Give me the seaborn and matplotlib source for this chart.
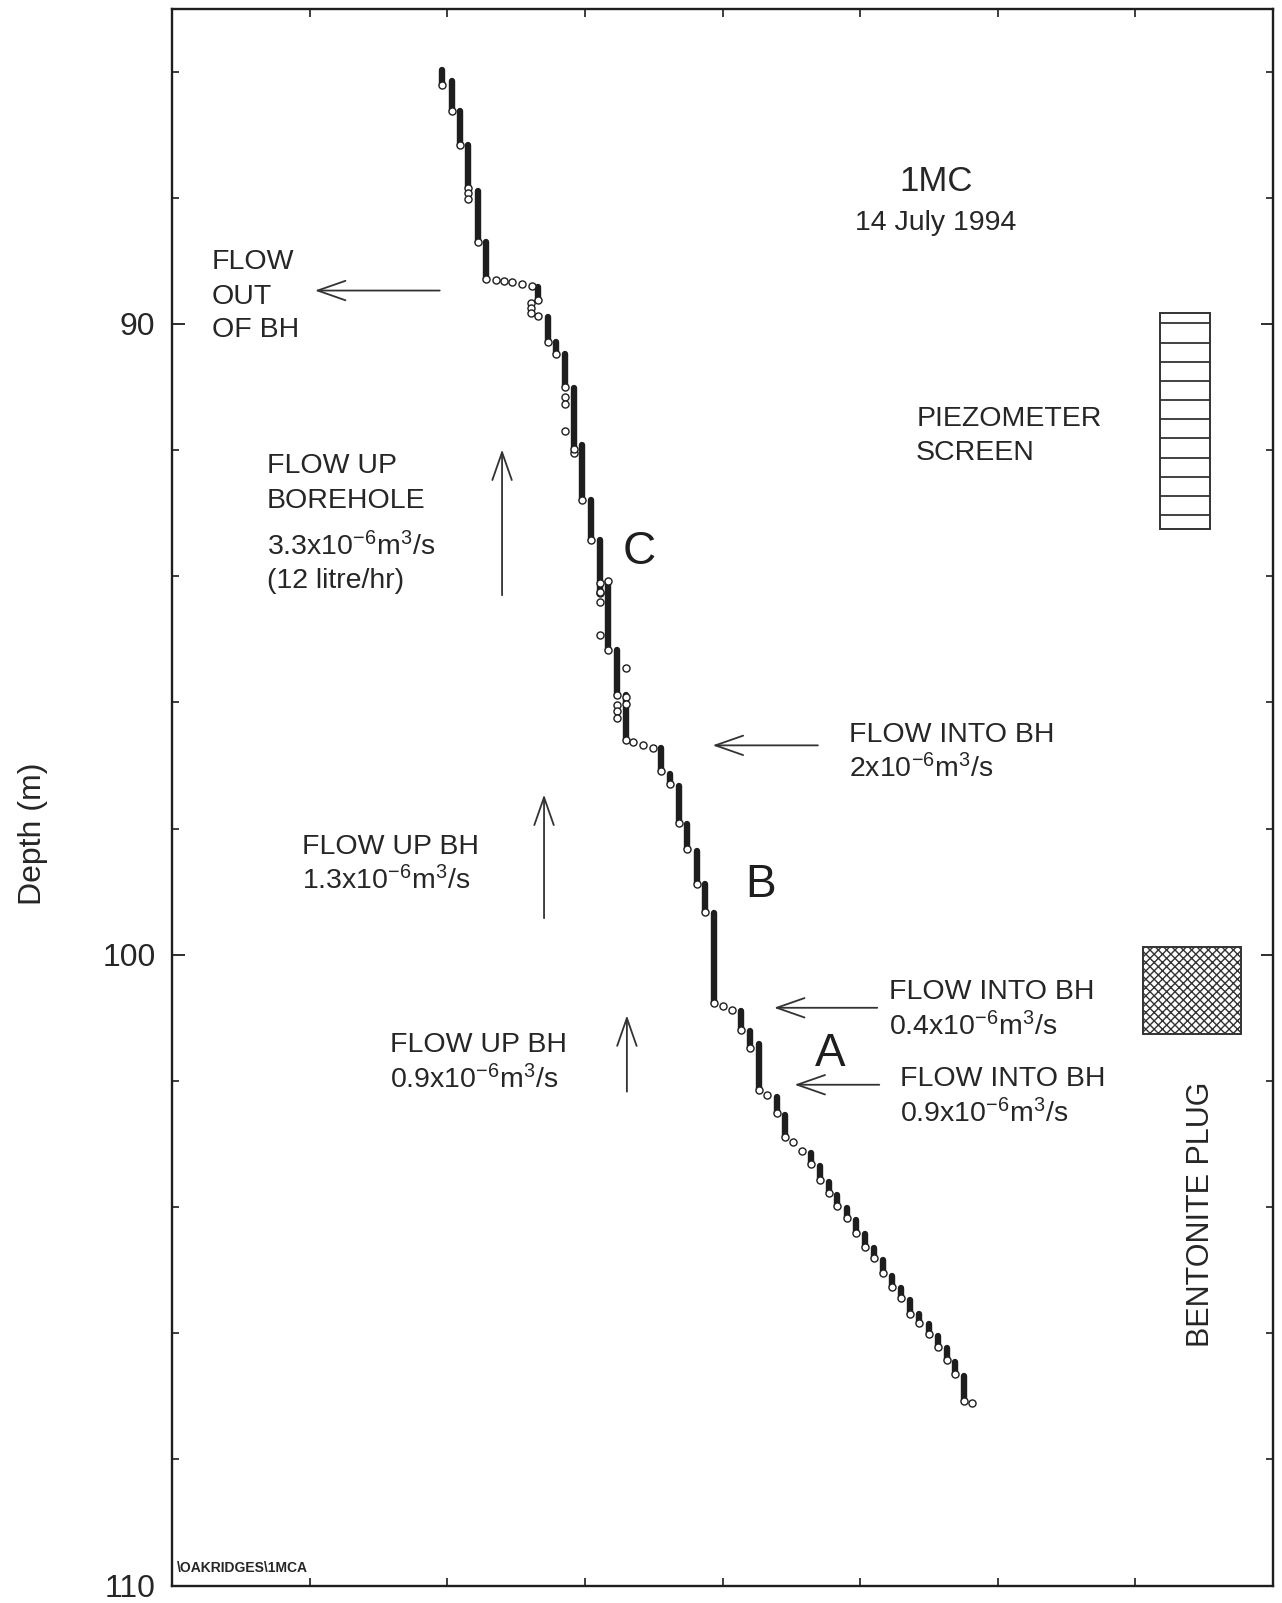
import numpy as np
import pandas as pd
import matplotlib
matplotlib.use("Agg")
import matplotlib.pyplot as plt
from matplotlib.patches import Rectangle
from matplotlib.ticker import FixedLocator, MultipleLocator
import seaborn as sns

# ---------------------------------------------------------------------------
# Borehole log 1MC, 14 July 1994: stationary columns of readings
# (horizontal reading, top and bottom depth of each column, m)
seg_x = [1.964, 2.037, 2.095, 2.153, 2.222, 2.284, 2.662, 2.731, 2.791, 2.854,
         2.922, 2.982, 3.043, 3.110, 3.171, 3.232, 3.299, 3.554, 3.619, 3.684,
         3.745, 3.813, 3.876, 3.941, 4.133, 4.201, 4.264, 4.395, 4.455, 4.642,
         4.709, 4.773, 4.835, 4.903, 4.971, 5.036, 5.102, 5.165, 5.230, 5.298,
         5.363, 5.431, 5.497, 5.562, 5.631, 5.691, 5.752]
seg_top = [85.97, 86.15, 86.63, 87.17, 87.89, 88.70, 89.42, 89.89, 90.28, 90.48,
           91.02, 91.92, 92.79, 93.42, 94.08, 95.17, 95.88, 96.72, 97.13, 97.33,
           97.92, 98.35, 98.88, 99.33, 100.89, 101.21, 101.41, 102.25, 102.54, 103.14,
           103.35, 103.60, 103.80, 104.01, 104.20, 104.43, 104.65, 104.84, 105.09, 105.29,
           105.47, 105.70, 105.85, 106.04, 106.24, 106.45, 106.68]
seg_bottom = [86.21, 86.63, 87.17, 87.85, 88.70, 89.28, 89.62, 90.28, 90.48, 91.00,
              92.05, 92.79, 93.42, 94.27, 95.17, 95.88, 96.60, 97.09, 97.30, 97.91,
              98.33, 98.88, 99.32, 100.77, 101.19, 101.48, 102.15, 102.51, 102.89, 103.32,
              103.57, 103.78, 103.99, 104.17, 104.41, 104.63, 104.81, 105.05, 105.27, 105.44,
              105.69, 105.83, 106.01, 106.22, 106.43, 106.65, 107.08]

# Single readings between columns
pt_x = [2.153, 2.153, 2.352, 2.413, 2.471, 2.544, 2.614, 2.607, 2.607, 2.607,
        2.662, 2.854, 2.854, 2.854, 2.922, 3.110, 3.110, 3.110, 3.110, 3.171,
        3.232, 3.232, 3.232, 3.299, 3.299, 3.299, 3.350, 3.423, 3.495, 4.007,
        4.068, 4.322, 4.515, 4.576, 5.814]
pt_depth = [87.93, 88.02, 89.30, 89.32, 89.33, 89.36, 89.39, 89.66, 89.74, 89.82,
            89.87, 91.15, 91.27, 91.69, 91.98, 94.10, 94.25, 94.40, 94.93, 94.08,
            96.04, 96.14, 96.25, 95.46, 95.92, 96.02, 96.63, 96.68, 96.72, 100.81,
            100.88, 102.22, 102.97, 103.11, 107.10]

# Piezometer screen and bentonite plug (depth, m)
screen_left, screen_right = 7.180, 7.544
screen_top, screen_bottom = 89.83, 93.25
screen_slots = [89.99, 90.30, 90.60, 90.90, 91.20, 91.51, 91.81, 92.12, 92.42,
                92.73, 93.03]
plug_left, plug_right = 7.057, 7.770
plug_top, plug_bottom = 99.88, 101.26

# Annotation lines (text, left x, baseline depth)
note_text = ["FLOW", "OUT", "OF BH",
             "FLOW UP", "BOREHOLE", r"3.3x10$^{\mathregular{-6}}$m$^{\mathregular{3}}$/s", "(12 litre/hr)",
             "FLOW INTO BH", r"2x10$^{\mathregular{-6}}$m$^{\mathregular{3}}$/s",
             "FLOW UP BH", r"1.3x10$^{\mathregular{-6}}$m$^{\mathregular{3}}$/s",
             "FLOW INTO BH", r"0.4x10$^{\mathregular{-6}}$m$^{\mathregular{3}}$/s",
             "FLOW UP BH", r"0.9x10$^{\mathregular{-6}}$m$^{\mathregular{3}}$/s",
             "FLOW INTO BH", r"0.9x10$^{\mathregular{-6}}$m$^{\mathregular{3}}$/s",
             "PIEZOMETER", "SCREEN"]
note_x = [0.288, 0.288, 0.288,
          0.689, 0.689, 0.689, 0.689,
          4.916, 4.916,
          0.942, 0.942,
          5.206, 5.206,
          1.581, 1.581,
          5.288, 5.288,
          5.407, 5.407]
note_depth = [89.13, 89.68, 90.21,
              92.37, 92.92, 93.66, 94.18,
              96.63, 97.18,
              98.40, 98.96,
              100.70, 101.28,
              101.54, 102.11,
              102.08, 102.66,
              91.61, 92.16]

# Zone letters
zone_text = ["C", "B", "A"]
zone_x = [3.275, 4.166, 4.671]
zone_depth = [93.81, 99.08, 101.77]

# Flow arrows: tail (x, depth) -> head (x, depth)
arrow_tail_x = [1.945, 2.398, 4.693, 2.703, 5.124, 3.305, 5.139]
arrow_tail_d = [89.47, 94.30, 96.68, 99.42, 100.84, 102.17, 102.06]
arrow_head_x = [1.038, 2.398, 3.928, 2.703, 4.374, 3.305, 4.523]
arrow_head_d = [89.47, 91.99, 96.68, 97.46, 100.84, 100.96, 102.06]

# ---------------------------------------------------------------------------
sns.set_theme(style="ticks")
plt.rcParams["font.family"] = ["Liberation Sans", "DejaVu Sans"]
plt.rcParams["mathtext.fontset"] = "custom"
plt.rcParams["mathtext.rm"] = "Liberation Sans"
plt.rcParams["mathtext.it"] = "Liberation Sans:italic"
plt.rcParams["mathtext.bf"] = "Liberation Sans:bold"
plt.rcParams["hatch.linewidth"] = 1.0

ink = "#1e1e1e"
txt = "#262626"
note_size = 20.5

fig = plt.figure(figsize=(12.82, 16.03), dpi=100)
ax = fig.add_axes([0.1342, 0.01085, 0.8588, 0.9838])

# Columns of readings drawn as thick vertical strokes
rows = []
for i, (x, t, b) in enumerate(zip(seg_x, seg_top, seg_bottom)):
    rows.append({"seg": i, "x": x, "depth": t})
    rows.append({"seg": i, "x": x, "depth": b})
df_seg = pd.DataFrame(rows)
sns.lineplot(data=df_seg, x="x", y="depth", units="seg", estimator=None,
             sort=False, color=ink, linewidth=4.6, solid_capstyle="round",
             legend=False, ax=ax, zorder=2)

# Last reading of each column and isolated readings as open circles
sns.scatterplot(x=seg_x, y=seg_bottom, marker="o", s=26, facecolor="white",
                edgecolor=ink, linewidth=1.0, ax=ax, zorder=3, legend=False)
sns.scatterplot(x=pt_x, y=pt_depth, marker="o", s=26, facecolor="white",
                edgecolor=ink, linewidth=1.0, ax=ax, zorder=3, legend=False)

# Piezometer screen
ax.add_patch(Rectangle((screen_left, screen_top), screen_right - screen_left,
                       screen_bottom - screen_top, facecolor="white",
                       edgecolor="#333333", lw=1.4, zorder=2))
ax.hlines(screen_slots, screen_left, screen_right, color="#333333", lw=1.3, zorder=2)

# Bentonite plug
ax.add_patch(Rectangle((plug_left, plug_top), plug_right - plug_left,
                       plug_bottom - plug_top, facecolor="white",
                       edgecolor="#333333", hatch="xxxx", lw=1.4, zorder=2))

# Text annotations
for t, x, d in zip(note_text, note_x, note_depth):
    ax.text(x, d, t, fontsize=note_size, color=txt, ha="left", va="baseline")
for t, x, d in zip(zone_text, zone_x, zone_depth):
    ax.text(x, d, t, fontsize=33, color=ink, ha="left", va="baseline")

ax.text(5.548, 87.89, "1MC", fontsize=25, color=txt, ha="center", va="baseline")
ax.text(5.548, 88.51, "14 July 1994", fontsize=note_size, color=txt,
        ha="center", va="baseline")
ax.text(7.48, 104.12, "BENTONITE PLUG", fontsize=22, color=txt, rotation=90,
        ha="center", va="center")
ax.text(0.036, 109.79, "\\OAKRIDGES\\1MCA", fontsize=10, color=txt,
        ha="left", va="baseline", fontweight="bold")

for tx, td, hx, hd in zip(arrow_tail_x, arrow_tail_d, arrow_head_x, arrow_head_d):
    ax.annotate("", xy=(hx, hd), xytext=(tx, td),
                arrowprops=dict(arrowstyle="->,head_length=1.0,head_width=0.35",
                                mutation_scale=20, lw=1.3, color="#333333",
                                shrinkA=0, shrinkB=0))

# Axes, ticks and frame
ax.set_xlim(0, 8)
ax.set_ylim(110, 85)
ax.set_xticks(np.arange(1, 8))
ax.set_xticklabels([])
ax.yaxis.set_major_locator(FixedLocator([90, 100, 110]))
ax.yaxis.set_minor_locator(MultipleLocator(2))
ax.tick_params(axis="y", which="major", direction="in", length=9, width=1.3,
               labelsize=23, pad=12, left=True, right=True, colors=ink,
               labelcolor=txt)
ax.tick_params(axis="y", which="minor", direction="in", length=5, width=1.2,
               left=True, right=True, colors=ink)
ax.tick_params(axis="x", which="major", direction="in", length=6, width=1.2,
               top=True, bottom=True, colors=ink)
for s in ax.spines.values():
    s.set_visible(True)
    s.set_linewidth(1.7)
    s.set_color(ink)

ax.set_xlabel("")
ax.set_ylabel("Depth (m)", fontsize=23, color=txt)
ax.yaxis.set_label_coords(-0.113, 0.477)

fig.savefig("out.png", dpi=100, facecolor="white")
